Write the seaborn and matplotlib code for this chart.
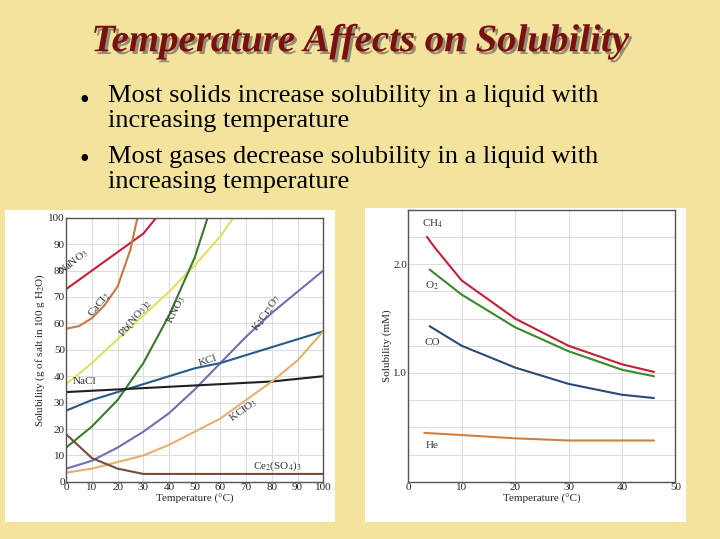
import numpy as np
import pandas as pd
import seaborn as sns
import matplotlib.pyplot as plt
from matplotlib.patches import Rectangle
import matplotlib.patheffects as pe

sns.set_theme(style="whitegrid")
plt.rcParams['font.family'] = ['Liberation Serif', 'DejaVu Serif']
plt.rcParams['mathtext.fontset'] = 'stix'

# solids: (temperature, g per 100 g water)
nano3_t = [0, 10, 20, 30, 35]
nano3_s = [73, 80, 87, 94, 100]
cacl2_t = [0, 5, 10, 15, 20, 25, 27, 28]
cacl2_s = [58, 59, 62, 67, 74, 88, 97, 101]
pbno3_t = [0, 10, 20, 30, 40, 50, 60, 65]
pbno3_s = [37, 45, 54, 63, 72, 82, 93, 100]
kno3_t = [0, 10, 20, 30, 40, 50, 55]
kno3_s = [13, 21, 31, 45, 63, 85, 100]
temps = [0, 10, 20, 30, 40, 50, 60, 70, 80, 90, 100]
k2cr2o7_s = [5, 8, 13, 19, 26, 35, 45, 55, 64, 72, 80]
kcl_s = [27, 31, 34, 37, 40, 43, 45, 48, 51, 54, 57]
nacl_s = [34, 34.5, 35, 35.5, 36, 36.5, 37, 37.5, 38, 39, 40]
kclo3_s = [3.5, 5, 7.5, 10, 14, 19, 24, 31, 38, 46, 57]
ce2so4_s = [18, 9, 5, 3, 3, 3, 3, 3, 3, 3, 3]

# gases: (temperature, mM)
ch4_t = [3.5, 5, 10, 20, 30, 40, 46]
ch4_s = [2.25, 2.15, 1.85, 1.5, 1.25, 1.08, 1.01]
o2_t = [4, 10, 20, 30, 40, 46]
o2_s = [1.95, 1.72, 1.42, 1.2, 1.03, 0.97]
co_t = [4, 10, 20, 30, 40, 46]
co_s = [1.43, 1.25, 1.05, 0.9, 0.8, 0.77]
he_t = [3, 10, 20, 30, 40, 46]
he_s = [0.45, 0.43, 0.40, 0.38, 0.38, 0.38]

fig = plt.figure(figsize=(7.2, 5.39), dpi=100)
fig.patch.set_facecolor('#f3e39c')

fig.text(0.5, 0.905, 'Temperature Affects on Solubility', ha='center', fontsize=28,
         style='italic', weight='bold', color='#7a1010',
         path_effects=[pe.withSimplePatchShadow(offset=(2, -2), shadow_rgbFace='#555555', alpha=0.6)])
fig.text(0.11, 0.80, '•', fontsize=20, color='black')
fig.text(0.15, 0.765, 'Most solids increase solubility in a liquid with\nincreasing temperature',
         fontsize=19, linespacing=1.15, color='black')
fig.text(0.11, 0.69, '•', fontsize=20, color='black')
fig.text(0.15, 0.652, 'Most gases decrease solubility in a liquid with\nincreasing temperature',
         fontsize=19, linespacing=1.15, color='black')

fig.patches.append(Rectangle((5/720, 1-522/539), 330/720, 312/539, transform=fig.transFigure,
                             facecolor='white', edgecolor='none', zorder=-1))
fig.patches.append(Rectangle((365/720, 1-522/539), 321/720, 314/539, transform=fig.transFigure,
                             facecolor='white', edgecolor='none', zorder=-1))

ax1 = fig.add_axes([0.092, 0.106, 0.357, 0.49])
solids = [
    (nano3_t, nano3_s, '#c0203a', 'NaNO$_3$', 3, 83, 38),
    (cacl2_t, cacl2_s, '#c87840', 'CaCl$_2$', 13, 67, 50),
    (pbno3_t, pbno3_s, '#e0e060', 'Pb(NO$_3$)$_2$', 27, 62, 50),
    (kno3_t, kno3_s, '#3a7a2a', 'KNO$_3$', 43, 65, 62),
    (temps, k2cr2o7_s, '#7070b0', 'K$_2$Cr$_2$O$_7$', 78, 64, 55),
    (temps, kcl_s, '#2a5a8a', 'KCl', 55, 46, 18),
    (temps, nacl_s, '#202020', 'NaCl', 7, 38, 0),
    (temps, kclo3_s, '#e8b070', 'KClO$_3$', 69, 27, 35),
    (temps, ce2so4_s, '#7a4a3a', 'Ce$_2$(SO$_4$)$_3$', 82, 6, 0),
]
for t, s, c, name, lx, ly, rot in solids:
    sns.lineplot(x=t, y=s, ax=ax1, color=c, lw=1.5)
    ax1.text(lx, ly, name, fontsize=8, rotation=rot, ha='center', va='center', color='#333333')
ax1.set_xlim(0, 100)
ax1.set_ylim(0, 100)
ax1.set_xticks(range(0, 101, 10))
ax1.set_yticks(range(0, 101, 10))
ax1.set_xlabel('Temperature (°C)', fontsize=8, labelpad=1)
ax1.set_ylabel('Solubility (g of salt in 100 g H$_2$O)', fontsize=8, labelpad=1)

ax2 = fig.add_axes([0.567, 0.106, 0.371, 0.505])
gases = [
    (ch4_t, ch4_s, '#c0203a', 'CH$_4$', 4.5, 2.37),
    (o2_t, o2_s, '#3a8a2a', 'O$_2$', 4.5, 1.8),
    (co_t, co_s, '#2a4a7a', 'CO', 4.5, 1.28),
    (he_t, he_s, '#d08040', 'He', 4.5, 0.33),
]
for t, s, c, name, lx, ly in gases:
    sns.lineplot(x=t, y=s, ax=ax2, color=c, lw=1.5)
    ax2.text(lx, ly, name, fontsize=8, ha='center', va='center', color='#333333')
ax2.set_xlim(0, 50)
ax2.set_ylim(0, 2.5)
ax2.set_xticks(range(0, 51, 10))
ax2.set_yticks(np.arange(0, 2.51, 0.25), minor=False)
ax2.set_yticklabels(['' if v not in (1.0, 2.0) else f'{v:.1f}' for v in np.arange(0, 2.51, 0.25)])
ax2.set_xlabel('Temperature (°C)', fontsize=8, labelpad=1)
ax2.set_ylabel('Solubility (mM)', fontsize=8, labelpad=1)

for ax in (ax1, ax2):
    ax.set_facecolor('white')
    ax.tick_params(labelsize=8, pad=1, length=0)
    ax.grid(color='#dddddd', lw=0.8)
    for sp in ax.spines.values():
        sp.set_color('#555555')
        sp.set_linewidth(1)

fig.savefig('out.png', dpi=100)
